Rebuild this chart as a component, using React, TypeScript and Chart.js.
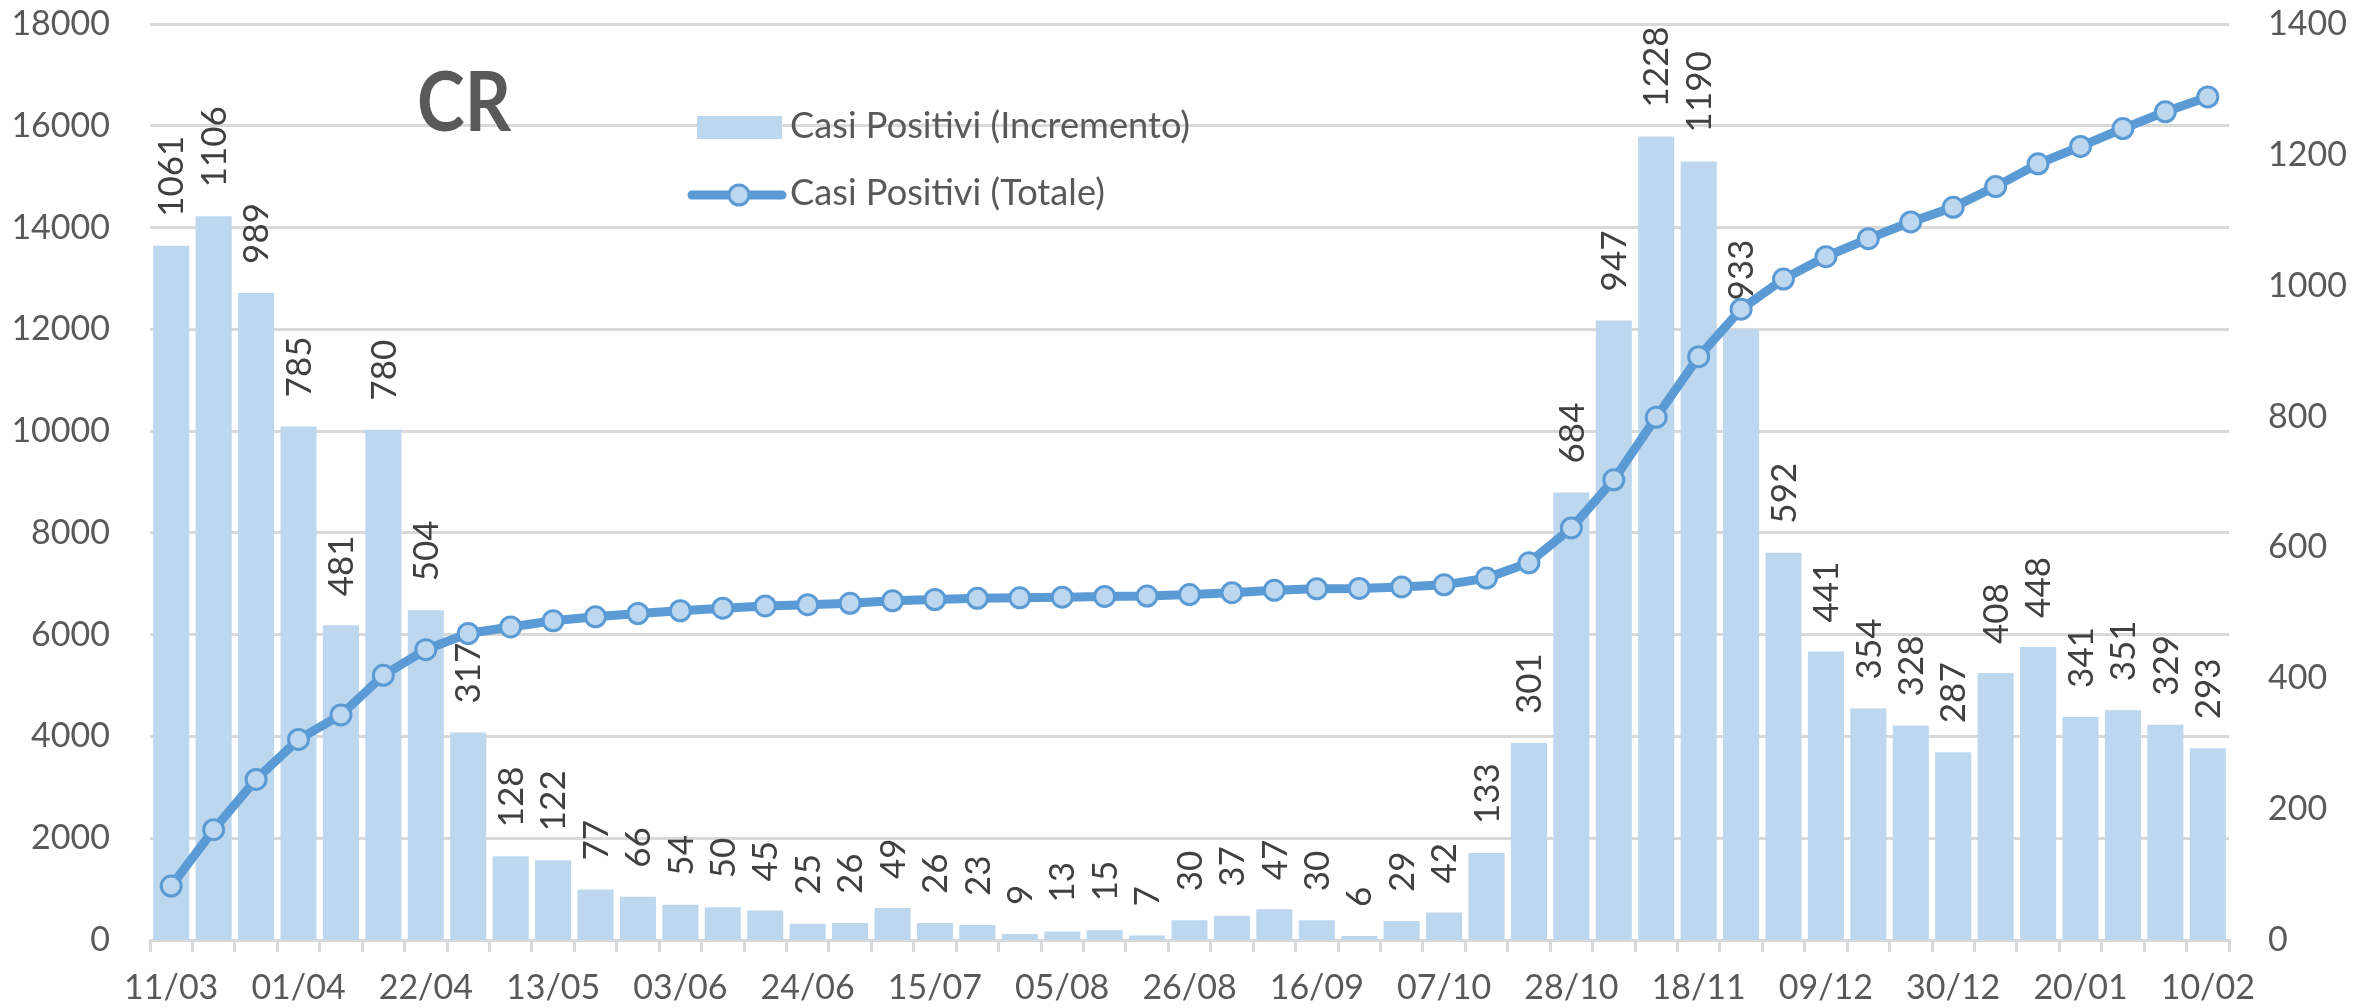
import React, { useEffect, useRef } from "react";
import { Chart, registerables } from "chart.js";

Chart.register(...registerables);

const dateLabels: string[] = [
  "11/03", "18/03", "25/03", "01/04", "08/04", "15/04", "22/04", "29/04", "06/05", "13/05",
  "20/05", "27/05", "03/06", "10/06", "17/06", "24/06", "01/07", "08/07", "15/07", "22/07",
  "29/07", "05/08", "12/08", "19/08", "26/08", "02/09", "09/09", "16/09", "23/09", "30/09",
  "07/10", "14/10", "21/10", "28/10", "04/11", "11/11", "18/11", "25/11", "02/12", "09/12",
  "16/12", "23/12", "30/12", "06/01", "13/01", "20/01", "27/01", "03/02", "10/02",
];

const incremento: number[] = [
  1061, 1106, 989, 785, 481, 780, 504, 317, 128, 122,
  77, 66, 54, 50, 45, 25, 26, 49, 26, 23,
  9, 13, 15, 7, 30, 37, 47, 30, 6, 29,
  42, 133, 301, 684, 947, 1228, 1190, 933, 592, 441,
  354, 328, 287, 408, 448, 341, 351, 329, 293,
];

const totale: number[] = [
  1061, 2167, 3156, 3941, 4422, 5202, 5706, 6023, 6151, 6273,
  6350, 6416, 6470, 6520, 6565, 6590, 6616, 6665, 6691, 6714,
  6723, 6736, 6751, 6758, 6788, 6825, 6872, 6902, 6908, 6937,
  6979, 7112, 7413, 8097, 9044, 10272, 11462, 12395, 12987, 13428,
  13782, 14110, 14397, 14805, 15253, 15594, 15945, 16274, 16567,
];

const leftTicks = { min: 0, max: 18000, step: 2000 };
const rightTicks = { min: 0, max: 1400, step: 200 };

const titleText = "CR";
const legendBarLabel = "Casi Positivi (Incremento)";
const legendLineLabel = "Casi Positivi (Totale)";

const BAR_COLOR = "#BDD7EE";
const LINE_COLOR = "#5B9BD5";
const GRID_COLOR = "#D9D9D9";
const TEXT_COLOR = "#595959";
const LABEL_COLOR = "#404040";
const FONT = "Lato";

const W = 2374;
const H = 1008;

const overlayPlugin = {
  id: "overlay",
  afterDatasetDraw(chart: any, args: any) {
    if (args.index !== 1) return;
    const ctx = chart.ctx as CanvasRenderingContext2D;
    const meta = chart.getDatasetMeta(1);
    ctx.save();
    ctx.font = `35px ${FONT}`;
    ctx.fillStyle = LABEL_COLOR;
    ctx.textAlign = "left";
    ctx.textBaseline = "middle";
    meta.data.forEach((el: any, i: number) => {
      const p = el.getProps(["x", "y"], true);
      ctx.save();
      ctx.translate(p.x + 1, p.y - 29);
      ctx.rotate(-Math.PI / 2);
      ctx.fillText(String(incremento[i]), 0, 0);
      ctx.restore();
    });
    ctx.restore();
  },
  afterDraw(chart: any) {
    const ctx = chart.ctx as CanvasRenderingContext2D;
    ctx.save();
    // Title
    ctx.font = `bold 82px ${FONT}`;
    ctx.fillStyle = TEXT_COLOR;
    ctx.textBaseline = "alphabetic";
    ctx.textAlign = "center";
    const tw = ctx.measureText(titleText).width;
    const sx = 94 / tw;
    ctx.save();
    ctx.translate(464, 131);
    ctx.scale(sx, 1);
    ctx.fillText(titleText, 0, 0);
    ctx.restore();

    // Legend: bar
    ctx.fillStyle = BAR_COLOR;
    ctx.fillRect(697, 116, 85, 23);
    ctx.font = `37px ${FONT}`;
    ctx.fillStyle = TEXT_COLOR;
    ctx.textAlign = "left";
    const lw = ctx.measureText(legendBarLabel).width;
    const lsx = 400 / lw;
    ctx.save();
    ctx.translate(790, 138);
    ctx.scale(lsx, 1);
    ctx.fillText(legendBarLabel, 0, 0);
    ctx.restore();

    // Legend: line
    ctx.strokeStyle = LINE_COLOR;
    ctx.lineWidth = 9;
    ctx.lineCap = "round";
    ctx.beginPath();
    ctx.moveTo(692, 195);
    ctx.lineTo(782, 195);
    ctx.stroke();
    ctx.beginPath();
    ctx.arc(739, 195, 10, 0, Math.PI * 2);
    ctx.fillStyle = BAR_COLOR;
    ctx.fill();
    ctx.lineWidth = 3;
    ctx.stroke();
    ctx.fillStyle = TEXT_COLOR;
    ctx.save();
    ctx.translate(790, 205);
    ctx.scale(lsx, 1);
    ctx.fillText(legendLineLabel, 0, 0);
    ctx.restore();
    ctx.restore();
  },
};

export default function App() {
  const ref = useRef<HTMLCanvasElement | null>(null);

  useEffect(() => {
    if (!ref.current) return;
    const tickFont = { family: FONT, size: 34 };
    const chart = new Chart(ref.current, {
      type: "bar",
      data: {
        labels: dateLabels,
        datasets: [
          {
            type: "line",
            label: legendLineLabel,
            data: totale,
            yAxisID: "yL",
            borderColor: LINE_COLOR,
            borderWidth: 9,
            pointRadius: 10,
            pointBackgroundColor: BAR_COLOR,
            pointBorderColor: LINE_COLOR,
            pointBorderWidth: 3,
            tension: 0,
            order: 0,
          } as any,
          {
            type: "bar",
            label: legendBarLabel,
            data: incremento,
            yAxisID: "yR",
            backgroundColor: BAR_COLOR,
            barPercentage: 0.85,
            categoryPercentage: 1,
            order: 1,
          } as any,
        ],
      },
      options: {
        responsive: false,
        animation: false,
        devicePixelRatio: 1,
        events: [],
        layout: { padding: { top: 24, left: 0, right: 0, bottom: 0 }, autoPadding: false },
        plugins: {
          legend: { display: false },
          title: { display: false },
          tooltip: { enabled: false },
        },
        scales: {
          x: {
            type: "category",
            offset: true,
            grid: {
              offset: true,
              drawOnChartArea: false,
              drawTicks: true,
              tickLength: 12,
              color: GRID_COLOR,
              lineWidth: 3,
            },
            border: { display: true, color: GRID_COLOR, width: 3 },
            ticks: {
              autoSkip: false,
              maxRotation: 0,
              minRotation: 0,
              padding: 16,
              color: TEXT_COLOR,
              font: tickFont,
              callback: (_v: any, i: number) => (i % 3 === 0 ? dateLabels[i] : ""),
            },
            afterFit: (s: any) => {
              s.height = 68;
            },
          },
          yL: {
            type: "linear",
            position: "left",
            min: leftTicks.min,
            max: leftTicks.max,
            grid: {
              color: GRID_COLOR,
              lineWidth: 3,
              drawTicks: true,
              tickLength: 40,
              tickColor: "rgba(0,0,0,0)",
            },
            border: { display: false },
            ticks: {
              stepSize: leftTicks.step,
              padding: 0,
              color: TEXT_COLOR,
              font: tickFont,
              callback: (v: any) => String(v),
            },
            afterFit: (s: any) => {
              s.width = 150;
            },
          },
          yR: {
            type: "linear",
            position: "right",
            min: rightTicks.min,
            max: rightTicks.max,
            grid: { display: false, drawTicks: true, tickLength: 39 },
            border: { display: false },
            ticks: {
              stepSize: rightTicks.step,
              padding: 0,
              color: TEXT_COLOR,
              font: tickFont,
              callback: (v: any) => String(v),
            },
            afterFit: (s: any) => {
              s.width = 145;
            },
          },
        },
      } as any,
      plugins: [overlayPlugin],
    });
    return () => chart.destroy();
  }, []);

  return (
    <div style={{ position: "fixed", left: 0, top: 0, width: W, height: H, background: "#fff" }}>
      <canvas ref={ref} width={W} height={H} style={{ display: "block", width: W, height: H }} />
    </div>
  );
}
